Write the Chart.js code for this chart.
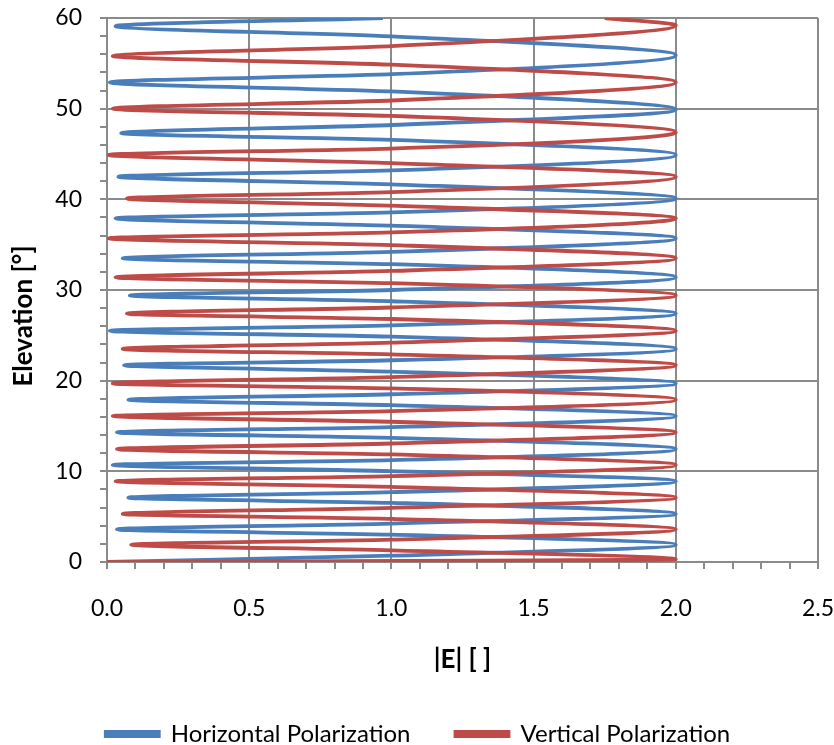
<!DOCTYPE html>
<html><head><meta charset="utf-8">
<script src="https://cdn.jsdelivr.net/npm/chart.js@4.4.1/dist/chart.umd.min.js"></script>
<style>html,body{margin:0;padding:0;background:#fff;}canvas{display:block;}</style>
</head><body>
<canvas id="c" width="834" height="745"></canvas>
<script>
const seriesNames = ['Horizontal Polarization', 'Vertical Polarization'];

// Horizontal polarization: elevation [°] and |E|
const hElevation = [0, 0.7, 1.9, 3.02, 3.6, 4.24, 5.3, 6.52, 7.1, 7.7, 8.9, 10.02, 10.7, 11.24, 12.45, 13.7, 14.3, 14.88, 16.1, 17.3, 17.9, 18.5, 19.7, 21.0, 21.7, 22.25, 23.5, 24.86, 25.5, 26.1, 27.4, 28.76, 29.4, 30.0, 31.4, 32.85, 33.5, 34.2, 35.7, 37.1, 37.9, 38.56, 40.1, 41.66, 42.5, 43.2, 44.9, 46.55, 47.3, 48.2, 49.9, 51.9, 52.9, 53.8, 55.9, 57.97, 59.1, 60];
const hField     = [0, 1.0, 2.0, 1.0, 0.035, 1.0, 2.0, 1.0, 0.075, 1.0, 2.0, 1.0, 0.02, 1.0, 2.0, 1.0, 0.035, 1.0, 2.0, 1.0, 0.075, 1.0, 2.0, 1.0, 0.06, 1.0, 2.0, 1.0, 0.01, 1.0, 2.0, 1.0, 0.08, 1.0, 2.0, 1.0, 0.055, 1.0, 2.0, 1.0, 0.03, 1.0, 2.0, 1.0, 0.04, 1.0, 2.0, 1.0, 0.05, 1.0, 2.0, 1.0, 0.01, 1.0, 2.0, 1.0, 0.03, 0.97];

// Vertical polarization: elevation [°] and |E|
const vElevation = [0, 0.3, 1.29, 1.9, 2.46, 3.6, 4.75, 5.3, 5.97, 7.1, 8.29, 8.9, 9.47, 10.7, 11.86, 12.45, 13.07, 14.3, 15.47, 16.1, 16.65, 17.9, 19.15, 19.7, 20.4, 21.7, 22.9, 23.5, 24.2, 25.5, 26.8, 27.4, 28.07, 29.4, 30.75, 31.4, 32.1, 33.5, 34.95, 35.7, 36.35, 37.9, 39.3, 40.1, 40.8, 42.5, 44.0, 44.9, 45.6, 47.4, 49.2, 50.0, 50.9, 52.9, 54.85, 55.8, 56.9, 59.2, 60];
const vField     = [0, 2.0, 1.0, 0.085, 1.0, 2.0, 1.0, 0.055, 1.0, 2.0, 1.0, 0.03, 1.0, 2.0, 1.0, 0.035, 1.0, 2.0, 1.0, 0.02, 1.0, 2.0, 1.0, 0.02, 1.0, 2.0, 1.0, 0.055, 1.0, 2.0, 1.0, 0.07, 1.0, 2.0, 1.0, 0.03, 1.0, 2.0, 1.0, 0.005, 1.0, 2.0, 1.0, 0.07, 1.0, 2.0, 1.0, 0.005, 1.0, 2.0, 1.0, 0.02, 1.0, 2.0, 1.0, 0.02, 1.0, 2.0, 1.75];

const xTickLabels = ['0.0', '0.5', '1.0', '1.5', '2.0', '2.5'];
const yTickLabels = ['0', '10', '20', '30', '40', '50', '60'];
const xTitle = '|E| [ ]';
const yTitle = 'Elevation [°]';

const toPoints = (elev, field) => elev.map((e, i) => ({ x: field[i], y: e }));
const findLabel = (labels, v) => {
  const i = labels.findIndex(l => Math.abs(parseFloat(l) - v) < 1e-6);
  return i >= 0 ? labels[i] : '';
};
const GRID = '#8a8a8a';

const legendShift = {
  id: 'legendShift',
  afterLayout(chart) {
    const lg = chart.legend;
    if (lg) { lg.top -= 34; lg.bottom -= 34; lg.left += 9; lg.right += 9; }
  }
};

function draw() {
  new Chart(document.getElementById('c'), {
    type: 'line',
    data: {
      datasets: [
        { label: seriesNames[0], data: toPoints(hElevation, hField), borderColor: '#4a7ebb', backgroundColor: '#4a7ebb',
          borderWidth: 3.8, pointRadius: 0, indexAxis: 'y', cubicInterpolationMode: 'monotone', order: 1, fill: false },
        { label: seriesNames[1], data: toPoints(vElevation, vField), borderColor: '#be4b48', backgroundColor: '#be4b48',
          borderWidth: 3.8, pointRadius: 0, indexAxis: 'y', cubicInterpolationMode: 'monotone', order: 0, fill: false }
      ]
    },
    plugins: [legendShift],
    options: {
      indexAxis: 'y',
      responsive: false,
      animation: false,
      devicePixelRatio: 1,
      layout: { padding: { left: 0, right: 16, top: 18, bottom: -45 } },
      font: { family: 'Lato' },
      plugins: {
        tooltip: { enabled: false },
        legend: {
          position: 'bottom',
          labels: {
            font: { family: 'Lato', size: 24 },
            color: '#000',
            boxWidth: 53, boxHeight: 4,
            padding: 45,
            sort: (a, b) => a.datasetIndex - b.datasetIndex
          }
        }
      },
      scales: {
        x: {
          type: 'linear', position: 'bottom', min: 0, max: 2.5,
          afterFit: s => { s.height = 149; s.paddingLeft = 0; s.paddingRight = 0; },
          ticks: { stepSize: 0.1, autoSkip: false, maxRotation: 0, padding: 26, color: '#000',
                   font: { family: 'Lato', size: 23 },
                   callback: v => findLabel(xTickLabels, v) },
          grid: { color: c => (c.tick && findLabel(xTickLabels, c.tick.value) !== '') ? GRID : 'rgba(0,0,0,0)',
                  tickColor: GRID, lineWidth: 2, tickLength: 7 },
          border: { color: GRID, width: 2 },
          title: { display: true, text: xTitle, color: '#000', padding: { top: 0, bottom: 36 },
                   font: { family: 'Lato', size: 26, weight: 'bold' } }
        },
        y: {
          type: 'linear', position: 'left', min: 0, max: 60,
          afterFit: s => {
            s.width = 107; s.paddingTop = 0; s.paddingBottom = 0;
            if (!s._titleShifted) {
              const base = s.drawTitle;
              s.drawTitle = function () {
                this.ctx.save(); this.ctx.translate(0, 26); base.call(this); this.ctx.restore();
              };
              s._titleShifted = true;
            }
          },
          ticks: { stepSize: 2, autoSkip: false, padding: 18, color: '#000',
                   font: { family: 'Lato', size: 23 },
                   callback: v => findLabel(yTickLabels, v) },
          grid: { color: c => (c.tick && findLabel(yTickLabels, c.tick.value) !== '') ? GRID : 'rgba(0,0,0,0)',
                  tickColor: GRID, lineWidth: 2, tickLength: 7 },
          border: { color: GRID, width: 2 },
          title: { display: true, text: yTitle, color: '#000', padding: { top: 8, bottom: 0 },
                   font: { family: 'Lato', size: 26, weight: 'bold' } }
        }
      }
    }
  });
}
if (document.fonts && document.fonts.load) {
  Promise.all([document.fonts.load('23px Lato'), document.fonts.load('bold 26px Lato')]).then(draw, draw);
} else { draw(); }
</script>
</body></html>
